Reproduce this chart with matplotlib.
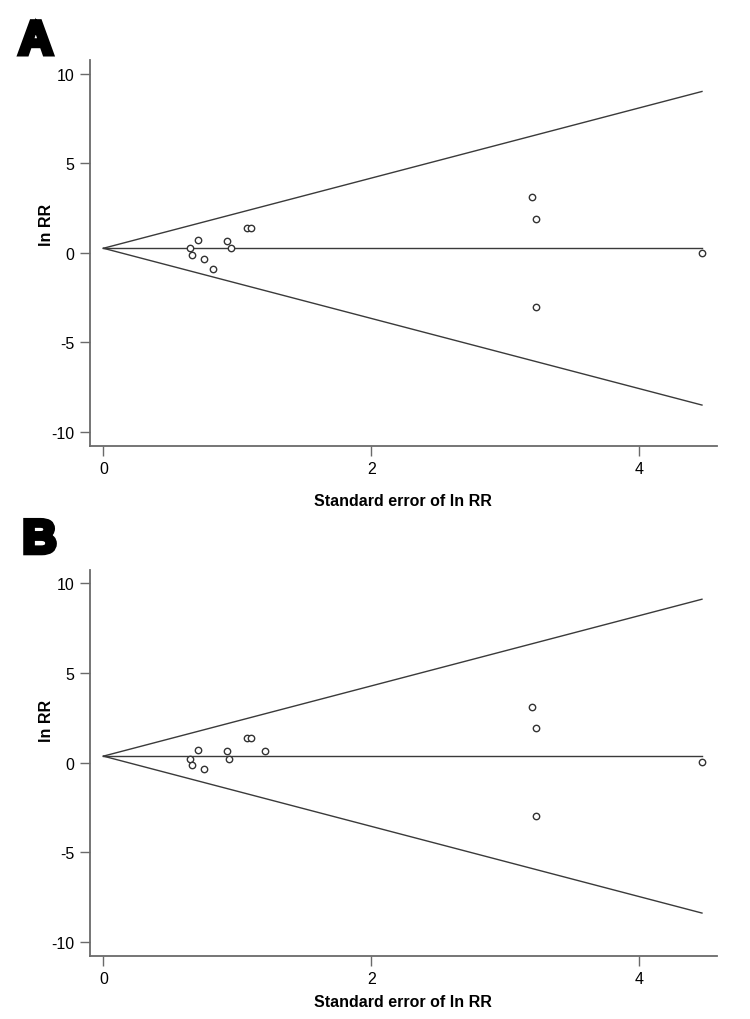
import numpy as np
import matplotlib
matplotlib.use('Agg')
import matplotlib.pyplot as plt
import matplotlib.patheffects as pe

plt.rcParams['font.family'] = ['Liberation Sans', 'DejaVu Sans']
plt.rcParams['axes.unicode_minus'] = False

# panel A: standard error and ln RR of each study
se_a = [0.65, 0.66, 0.71, 0.75, 0.82, 0.92, 0.95, 1.07, 1.10, 3.20, 3.23, 3.23, 4.47]
lnrr_a = [0.25, -0.13, 0.73, -0.37, -0.93, 0.64, 0.25, 1.40, 1.40, 3.09, 1.90, -3.02, 0.0]
pooled_a = 0.25

# panel B
se_b = [0.65, 0.66, 0.71, 0.75, 0.92, 0.94, 1.07, 1.10, 1.21, 3.20, 3.23, 3.23, 4.47]
lnrr_b = [0.21, -0.11, 0.73, -0.37, 0.64, 0.22, 1.40, 1.40, 0.67, 3.11, 1.94, -2.98, 0.04]
pooled_b = 0.36

xticks = [0, 2, 4]
yticks = [-10, -5, 0, 5, 10]

fig = plt.figure(figsize=(7.5, 10.2), dpi=100)
ax_a = fig.add_axes([0.12, 0.5621, 0.8356, 0.3781])
ax_b = fig.add_axes([0.12, 0.0621, 0.8356, 0.3784])

line_col = '#3a3a3a'
axis_col = '#6a6a6a'


def funnel(ax, se, lnrr, pooled, label_pad, ylab_y):
    se_max = max(se)
    s = np.array([0, se_max])
    ax.plot(s, pooled + 1.96 * s, color=line_col, lw=1.0)
    ax.plot(s, pooled - 1.96 * s, color=line_col, lw=1.0)
    ax.plot(s, [pooled, pooled], color=line_col, lw=1.0)
    ax.plot(se, lnrr, 'o', ms=4.6, mfc='white', mec='#333333', mew=1.0)
    ax.set_xlim(-0.1, 4.58)
    ax.set_ylim(-10.78, 10.77)
    ax.set_xticks(xticks)
    ax.set_yticks(yticks)
    for side in ['top', 'right']:
        ax.spines[side].set_visible(False)
    for side in ['left', 'bottom']:
        ax.spines[side].set_color(axis_col)
        ax.spines[side].set_linewidth(1.3)
    ax.tick_params(length=7, width=1.0, color=axis_col, labelsize=11.5, pad=4)
    ax.set_ylabel('ln RR', fontsize=11.5, fontweight='bold')
    ax.yaxis.set_label_coords(-0.058, ylab_y)
    ax.set_xlabel('Standard error of ln RR', fontsize=11.5, fontweight='bold',
                  labelpad=label_pad)


funnel(ax_a, se_a, lnrr_a, pooled_a, 12, 0.575)
funnel(ax_b, se_b, lnrr_b, pooled_b, 6, 0.61)

heavy = [pe.withStroke(linewidth=3.5, foreground='black', joinstyle='miter')]
fig.text(0.025, 0.946, 'A', fontsize=34, fontweight='bold', color='black',
         path_effects=heavy)
fig.text(0.030, 0.457, 'B', fontsize=34, fontweight='bold', color='black',
         path_effects=heavy)

fig.savefig('out.png', dpi=100)
